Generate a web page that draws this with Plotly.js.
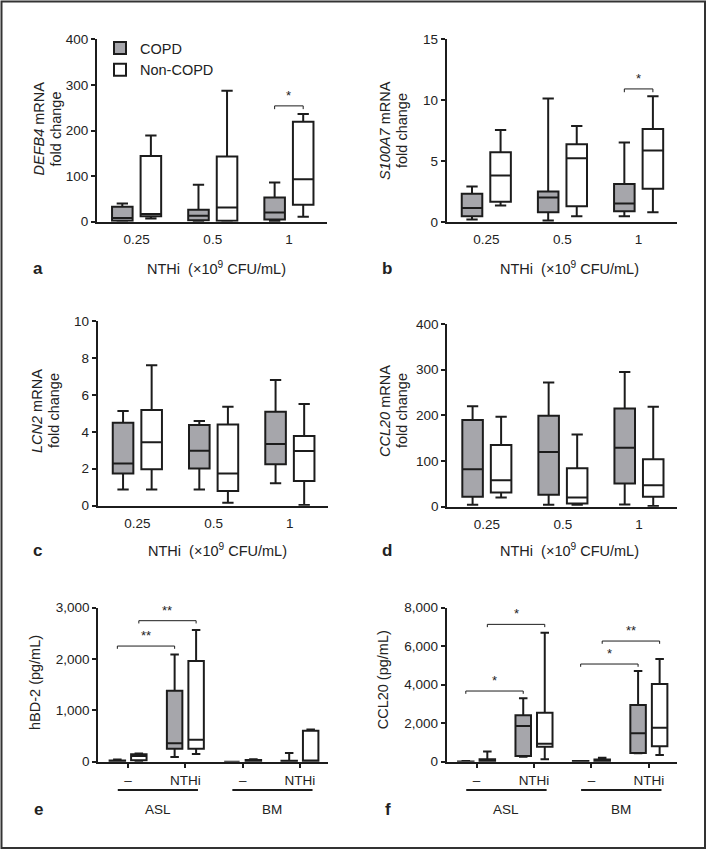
<!DOCTYPE html>
<html>
<head>
<meta charset="utf-8">
<script src="https://cdn.plot.ly/plotly-3.0.1.min.js"></script>
<style>html,body{margin:0;padding:0;background:#fff;}</style>
</head>
<body>
<div id="chart" style="width:707px;height:850px;"></div>
<script>
// ================= DATA =================
// categories
const doseCategories = ["0.25", "0.5", "1"];
const conditionCategories = ["ASL –", "ASL NTHi", "BM –", "BM NTHi"];
const conditionTickText = ["–", "NTHi", "–", "NTHi"];
const seriesNames = ["COPD", "Non-COPD"];
const sampleGroups = ["ASL", "BM"];
const sampleGroupSpans = [[0, 1], [2, 3]];   // category index range of each group

// five-number summaries per category: [lower whisker, Q1, median, Q3, upper whisker]
// a: DEFB4 mRNA fold change
const defb4Copd = [[0.5, 2, 8, 33, 40], [0.5, 3, 13, 26, 81], [1.5, 5, 20, 53, 86]];
const defb4Non  = [[7, 12, 17, 144, 189], [0.5, 2, 31, 143, 287], [11, 37, 93, 219, 236]];
// b: S100A7 mRNA fold change
const s100a7Copd = [[0.22, 0.49, 1.17, 2.33, 2.93], [0.14, 0.81, 2.03, 2.52, 10.12], [0.49, 0.9, 1.52, 3.12, 6.51]];
const s100a7Non  = [[1.36, 1.68, 3.82, 5.72, 7.54], [0.49, 1.3, 5.23, 6.37, 7.87], [0.81, 2.74, 5.86, 7.62, 10.31]];
// c: LCN2 mRNA fold change
const lcn2Copd = [[0.88, 1.75, 2.29, 4.49, 5.13], [0.88, 2.02, 2.98, 4.37, 4.58], [1.21, 2.24, 3.34, 5.09, 6.81]];
const lcn2Non  = [[0.88, 1.97, 3.43, 5.18, 7.6], [0.16, 0.79, 1.75, 4.4, 5.36], [0.04, 1.34, 2.96, 3.77, 5.51]];
// d: CCL20 mRNA fold change
const ccl20mCopd = [[4, 22, 82, 190, 220], [4, 26, 120, 199, 272], [5, 51, 129, 215, 295]];
const ccl20mNon  = [[20, 31, 58, 135, 197], [4, 7, 20, 84, 158], [1.5, 22, 47, 104, 219]];
// e: hBD-2 (pg/mL)
const hbd2Copd = [[0, 5, 15, 25, 45], [90, 250, 360, 1380, 2090], [0, 0, 0, 0, 0], [0, 0, 5, 20, 170]];
const hbd2Non  = [[5, 30, 110, 145, 160], [150, 250, 430, 1961, 2565], [0, 10, 20, 35, 50], [0, 5, 10, 605, 625]];
// f: CCL20 (pg/mL)
const ccl20pCopd = [[0, 0, 5, 15, 30], [260, 300, 1853, 2407, 3290], [0, 5, 15, 30, 40], [433, 450, 1475, 2944, 4710]];
const ccl20pNon  = [[0, 35, 90, 121, 525], [130, 780, 930, 2545, 6701], [0, 30, 60, 120, 200], [346, 800, 1766, 4035, 5333]];

// significance brackets: [category from, series from, category to, series to, y, label]
const sigDefb4  = [[2, 0, 2, 1, 254, "*"]];
const sigS100a7 = [[2, 0, 2, 1, 10.9, "*"]];
const sigLcn2   = [];
const sigCcl20m = [];
const sigHbd2   = [[0, 0, 1, 0, 2253, "**"], [0, 1, 1, 1, 2747, "**"]];
const sigCcl20p = [[0, 0, 1, 0, 3671, "*"], [0, 1, 1, 1, 7134, "*"], [2, 0, 3, 0, 5074, "*"], [2, 1, 3, 1, 6268, "**"]];

// axis ticks
const yRangeA = [0, 400], yDtickA = 100;
const yRangeB = [0, 15], yDtickB = 5;
const yRangeC = [0, 10], yDtickC = 2;
const yRangeD = [0, 400], yDtickD = 100;
const yRangeE = [0, 3000], yDtickE = 1000;
const yRangeF = [0, 8000], yDtickF = 2000;

// ================= STYLE / LAYOUT =================
const W = 707, H = 850;
const px = v => v / W;
const py = v => 1 - v / H;
const FONT = "Liberation Sans, Arial, Helvetica, sans-serif";
const INK = "#1c1c1c";
const TXT = "#222222";
const GRAY = "#a6a6ab";
const BOXGAP = 0.25, BOXGROUPGAP = 0.28;
const seriesOffset = [-(1 - BOXGAP) / 4, (1 - BOXGAP) / 4];
const xTitle = "NTHi\u00a0 (×10<sup>9</sup> CFU/mL)";

const panels = [
  {letter: "a", cats: doseCategories, copd: defb4Copd, non: defb4Non, sig: sigDefb4, yr: yRangeA, dt: yDtickA,
   xd: [97, 327], yd: [39.3, 221.7], yTitle: ["<i>DEFB4</i> mRNA", "fold change"], yTx: [38.5, 55.5], yTy: 129, let: [37.7, 268], xT: [216.5, 268]},
  {letter: "b", cats: doseCategories, copd: s100a7Copd, non: s100a7Non, sig: sigS100a7, yr: yRangeB, dt: yDtickB,
   xd: [446.7, 676.7], yd: [38.8, 222.2], yTitle: ["<i>S100A7</i> mRNA", "fold change"], yTx: [385, 402], yTy: 131, let: [386.7, 268], xT: [569.5, 268]},
  {letter: "c", cats: doseCategories, copd: lcn2Copd, non: lcn2Non, sig: sigLcn2, yr: yRangeC, dt: yDtickC,
   xd: [97.7, 328], yd: [321, 505.7], yTitle: ["<i>LCN2</i> mRNA", "fold change"], yTx: [37, 54], yTy: 411, let: [37.7, 550], xT: [217, 550]},
  {letter: "d", cats: doseCategories, copd: ccl20mCopd, non: ccl20mNon, sig: sigCcl20m, yr: yRangeD, dt: yDtickD,
   xd: [447.3, 677], yd: [324, 506.7], yTitle: ["<i>CCL20</i> mRNA", "fold change"], yTx: [385, 402], yTy: 411, let: [386.7, 550], xT: [569.5, 550]},
  {letter: "e", cats: conditionCategories, copd: hbd2Copd, non: hbd2Non, sig: sigHbd2, yr: yRangeE, dt: yDtickE,
   xd: [98.3, 328], yd: [607.7, 761.7], yTitle: ["hBD-2 (pg/mL)"], yTx: [35], yTy: 683, let: [38, 809], grouped: true},
  {letter: "f", cats: conditionCategories, copd: ccl20pCopd, non: ccl20pNon, sig: sigCcl20p, yr: yRangeF, dt: yDtickF,
   xd: [446.7, 677], yd: [607.7, 761.7], yTitle: ["CCL20 (pg/mL)"], yTx: [383.3], yTy: 680, let: [388, 809], grouped: true}
];

const traces = [];
const layout = {
  width: W, height: H,
  margin: {l: 0, r: 0, t: 0, b: 0},
  paper_bgcolor: "#ffffff", plot_bgcolor: "rgba(0,0,0,0)",
  font: {family: FONT, color: TXT, size: 13.5},
  boxmode: "group", boxgap: BOXGAP, boxgroupgap: BOXGROUPGAP,
  showlegend: true,
  legend: {x: px(100), xanchor: "left", y: py(32), yanchor: "top", bgcolor: "rgba(0,0,0,0)",
           font: {size: 14.5, family: FONT, color: TXT}, tracegroupgap: 0},
  shapes: [], annotations: []
};

const col = (rows, k) => rows.map(r => r[k]);

panels.forEach((p, i) => {
  const n = i + 1;
  const xa = "x" + (n === 1 ? "" : n), ya = "y" + (n === 1 ? "" : n);
  const xKey = "xaxis" + (n === 1 ? "" : n), yKey = "yaxis" + (n === 1 ? "" : n);
  [p.copd, p.non].forEach((rows, s) => {
    traces.push({
      type: "box", name: seriesNames[s], x: p.cats,
      lowerfence: col(rows, 0), q1: col(rows, 1), median: col(rows, 2), q3: col(rows, 3), upperfence: col(rows, 4),
      boxpoints: false, xaxis: xa, yaxis: ya,
      offsetgroup: "s" + s, legendgroup: "s" + s, showlegend: n === 1,
      fillcolor: s === 0 ? GRAY : "#ffffff",
      line: {color: INK, width: 2}, whiskerwidth: 0.55, hoverinfo: "skip"
    });
  });
  const nc = p.cats.length;
  layout[xKey] = {
    domain: [px(p.xd[0]), px(p.xd[1])], anchor: ya, type: "category",
    categoryorder: "array", categoryarray: p.cats,
    range: p.grouped ? [-0.52, nc - 1 + 0.49] : [-0.52, nc - 1 + 0.5],
    showline: true, linewidth: 2, linecolor: INK, showgrid: false, zeroline: false,
    ticks: p.grouped ? "outside" : "", ticklen: 4, tickwidth: 2, tickcolor: INK,
    ticklabelstandoff: p.grouped ? 1 : 4,
    tickfont: {size: 13.5, color: TXT}, fixedrange: true
  };
  if (p.grouped) { layout[xKey].tickmode = "array"; layout[xKey].tickvals = p.cats; layout[xKey].ticktext = conditionTickText; }
  layout[yKey] = {
    domain: [py(p.yd[1]), py(p.yd[0])], anchor: xa, range: p.yr, tick0: 0, dtick: p.dt,
    tickformat: p.grouped ? "," : "",
    showline: true, linewidth: 2, linecolor: INK, showgrid: false, zeroline: false,
    ticks: "outside", ticklen: 4, tickwidth: 2, tickcolor: INK,
    tickfont: {size: 13.5, color: TXT}, fixedrange: true
  };
  // y title (one annotation per line)
  p.yTitle.forEach((t, k) => {
    layout.annotations.push({xref: "paper", yref: "paper", x: px(p.yTx[k]), y: py(p.yTy), text: t,
      textangle: -90, showarrow: false, font: {size: 14.5, color: TXT}, xanchor: "center", yanchor: "middle"});
  });
  // panel letter
  layout.annotations.push({xref: "paper", yref: "paper", x: px(p.let[0]), y: py(p.let[1]), text: "<b>" + p.letter + "</b>",
    showarrow: false, font: {size: 17, color: TXT}, xanchor: "center", yanchor: "middle"});
  if (p.xT) {
    layout.annotations.push({xref: "paper", yref: "paper", x: px(p.xT[0]), y: py(p.xT[1]), text: xTitle,
      showarrow: false, font: {size: 14.5, color: TXT}, xanchor: "center", yanchor: "middle"});
  }
  // significance brackets
  const drop = (p.yr[1] - p.yr[0]) * 0.018;
  p.sig.forEach(b => {
    const x0 = b[0] + seriesOffset[b[1]], x1 = b[2] + seriesOffset[b[3]], y = b[4];
    const ln = {color: INK, width: 1};
    layout.shapes.push({type: "line", xref: xa, yref: ya, x0: x0, x1: x1, y0: y, y1: y, line: ln});
    layout.shapes.push({type: "line", xref: xa, yref: ya, x0: x0, x1: x0, y0: y, y1: y - drop, line: ln});
    layout.shapes.push({type: "line", xref: xa, yref: ya, x0: x1, x1: x1, y0: y, y1: y - drop, line: ln});
    layout.annotations.push({xref: xa, yref: ya, x: (x0 + x1) / 2, y: y, text: b[5], showarrow: false,
      yanchor: "bottom", yshift: 1, font: {size: 13, color: TXT}});
  });
  // sample group underlines (e, f)
  if (p.grouped) {
    sampleGroups.forEach((g, k) => {
      const a0 = sampleGroupSpans[k][0] - 0.18, a1 = sampleGroupSpans[k][1] + 0.22;
      layout.shapes.push({type: "line", xref: xa, yref: "paper", x0: a0, x1: a1, y0: py(790), y1: py(790),
        line: {color: INK, width: 2}});
      layout.annotations.push({xref: xa, yref: "paper", x: (a0 + a1) / 2, y: py(809), text: g, showarrow: false,
        font: {size: 13.5, color: TXT}, xanchor: "center", yanchor: "middle"});
    });
  }
});

// outer frame
layout.shapes.push({type: "rect", xref: "paper", yref: "paper", x0: px(1.5), x1: px(705), y0: py(848), y1: py(1.5),
  line: {color: "#333333", width: 2}, fillcolor: "rgba(0,0,0,0)"});

Plotly.newPlot("chart", traces, layout, {staticPlot: true, displayModeBar: false});
</script>
</body>
</html>
